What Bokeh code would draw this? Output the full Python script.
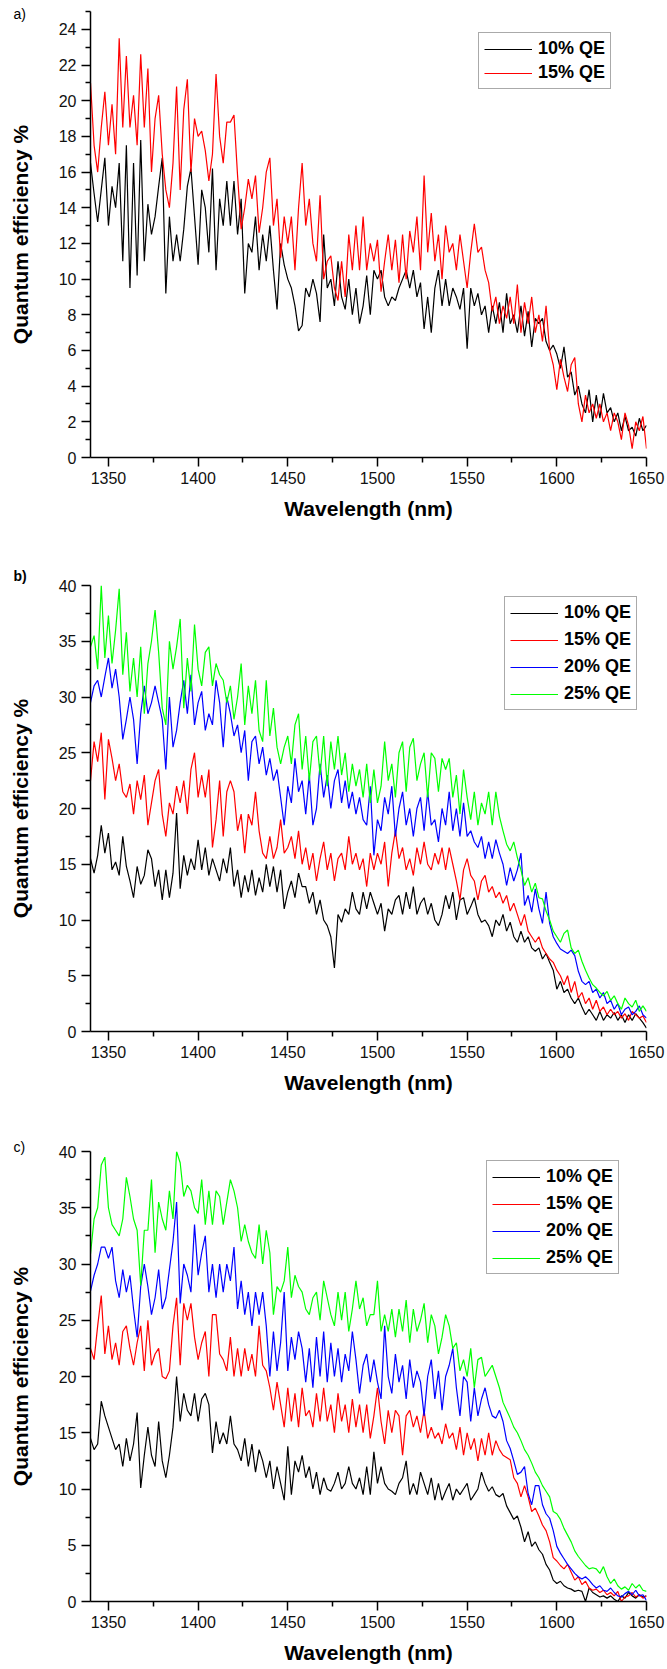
from bokeh.plotting import figure
from bokeh.models import Range1d, FixedTicker, Legend, LegendItem, Title
from bokeh.layouts import column
from bokeh.embed import file_html
from bokeh.resources import INLINE

# ---------------- data ----------------
wavelength = list(range(1340, 1651, 2))  # nm

# panel a
qe_a_10 = [
    16.5, 14.8, 13.2, 15.0, 16.8,  13.0, 15.2, 14.0, 16.5, 11.0,
    17.5, 9.5, 16.5, 10.2, 17.8,  11.0, 14.2, 12.5, 13.5, 15.2,
    16.8, 9.2, 13.5, 11.0, 12.5,  11.0, 12.8, 15.2, 16.2, 13.5,
    10.8, 15.0, 14.0, 11.5, 16.2,  10.5, 14.5, 13.0, 15.5, 13.0,
    15.5, 12.5, 14.5, 9.2, 12.0,  11.5, 13.5, 10.5, 12.5, 11.0,
    13.0, 10.5, 8.3, 12.0, 10.8,  10.0, 9.5, 8.5, 7.1, 7.4,
    9.5, 9.0, 10.0, 9.2, 7.6,  12.5, 9.5, 10.0, 8.5, 11.0,
    9.0, 8.3, 10.0, 8.0, 9.5,  7.5, 8.5, 10.2, 8.0, 10.5,
    10.0, 10.5, 9.0, 8.5, 9.0,  8.8, 9.5, 10.0, 10.5, 9.5,
    10.5, 9.0, 9.8, 7.2, 9.0,  7.0, 9.5, 10.5, 8.5, 10.0,
    8.5, 9.5, 9.0, 8.3, 9.5,  6.1, 9.5, 8.5, 9.2, 8.0,
    8.5, 7.0, 8.5, 7.5, 8.7,  7.0, 9.2, 7.5, 8.0, 7.0,
    8.5, 6.8, 8.2, 6.2, 7.8,  7.5, 7.8, 6.5, 6.0, 6.3,
    5.8, 5.0, 6.2, 4.5, 4.8,  3.5, 4.0, 3.0, 2.5, 3.8,
    2.0, 3.5, 2.2, 3.6, 2.5,  2.8, 2.0, 2.5, 1.5, 2.3,
    1.5, 1.7, 1.2, 2.2, 1.5,  1.8]
qe_a_15 = [
    21.0, 17.5, 16.0, 18.5, 20.5,  17.5, 19.8, 17.0, 23.5, 18.5,
    22.5, 18.5, 20.3, 17.5, 22.6,  18.5, 21.8, 16.0, 19.0, 20.3,
    17.0, 15.0, 14.0, 16.5, 20.8,  15.0, 19.5, 21.2, 16.0, 19.0,
    18.0, 18.3, 17.2, 15.5, 17.0,  21.5, 18.0, 16.5, 18.8, 18.8,
    19.2, 15.8, 12.8, 14.0, 15.6,  14.5, 15.8, 12.6, 14.0, 16.0,
    16.8, 13.0, 14.5, 11.2, 13.5,  12.0, 13.5, 10.5, 14.0, 16.5,
    13.0, 14.5, 12.0, 11.0, 14.7,  10.0, 11.0, 11.3, 9.5, 8.8,
    11.0, 9.0, 12.5, 10.5, 13.0,  10.5, 13.5, 10.5, 12.0, 11.0,
    12.2, 9.3, 11.0, 12.5, 10.5,  12.2, 9.8, 12.5, 10.0, 12.7,
    11.5, 13.5, 10.5, 15.8, 11.5,  13.7, 11.0, 12.5, 10.0, 13.0,
    11.5, 12.0, 10.5, 12.5, 11.0,  9.5, 11.5, 13.1, 11.5, 11.8,
    10.5, 9.8, 8.2, 9.0, 7.5,  8.5, 7.8, 9.0, 7.5, 9.7,
    7.0, 8.7, 7.5, 9.0, 7.0,  8.0, 6.5, 8.5, 6.0, 5.2,
    3.8, 5.5, 4.5, 3.7, 5.2,  5.6, 3.0, 2.0, 3.5, 2.5,
    3.0, 2.2, 3.0, 2.0, 2.5,  1.5, 2.5, 2.0, 1.0, 2.5,
    1.8, 0.5, 2.0, 1.5, 2.3,  0.5]

# panel b
qe_b_10 = [
    15.5, 14.2, 15.8, 18.5, 16.0,  17.8, 14.5, 15.2, 14.0, 17.5,
    14.8, 13.5, 12.0, 14.8, 13.2,  14.0, 16.3, 15.5, 13.0, 14.5,
    11.8, 14.5, 12.0, 14.2, 19.6,  12.8, 15.8, 14.0, 15.5, 14.5,
    17.2, 14.5, 16.5, 14.0, 15.5,  14.5, 13.5, 15.5, 14.2, 16.5,
    13.0, 14.5, 12.0, 14.0, 12.5,  14.5, 12.2, 13.8, 12.5, 15.0,
    13.0, 14.8, 12.5, 14.5, 11.0,  12.5, 13.5, 12.0, 14.2, 13.0,
    13.0, 11.5, 12.5, 10.5, 11.8,  10.0, 9.5, 8.5, 5.7, 10.5,
    9.8, 11.0, 10.5, 12.5, 11.0,  10.5, 12.5, 11.0, 12.5, 11.5,
    10.5, 11.5, 9.0, 11.0, 10.5,  11.8, 12.2, 10.5, 12.5, 11.0,
    13.0, 10.5, 11.5, 12.0, 10.5,  11.5, 10.0, 9.5, 10.5, 12.2,
    11.0, 12.5, 10.0, 11.8, 12.0,  10.5, 11.2, 12.0, 10.5, 9.8,
    10.0, 9.5, 8.5, 10.0, 9.5,  10.5, 9.0, 9.8, 8.5, 8.0,
    9.0, 8.0, 8.5, 7.5, 7.2,  7.5, 6.5, 7.0, 6.2, 5.5,
    3.8, 4.5, 3.5, 3.8, 3.0,  2.5, 3.0, 2.2, 1.5, 2.0,
    1.5, 1.0, 1.8, 1.0, 1.5,  1.2, 1.7, 1.0, 1.5, 0.8,
    1.5, 1.0, 1.6, 1.2, 0.8,  0.3]
qe_b_15 = [
    22.5, 26.0, 24.2, 26.8, 20.8,  26.2, 24.5, 22.5, 24.0, 21.5,
    21.0, 22.2, 19.5, 22.5, 20.8,  23.0, 18.5, 20.5, 22.5, 23.5,
    19.5, 17.5, 20.5, 19.5, 22.0,  20.5, 22.5, 19.5, 23.5, 25.0,
    21.0, 23.0, 21.0, 23.5, 16.5,  19.0, 22.5, 17.5, 21.5, 22.5,
    21.5, 18.0, 19.5, 16.0, 19.5,  18.5, 21.5, 18.0, 16.0, 15.5,
    17.5, 15.5, 16.5, 19.0, 16.0,  16.5, 17.5, 15.5, 18.0, 15.0,
    16.5, 14.5, 16.0, 13.5, 15.5,  17.0, 14.5, 16.0, 13.5, 15.5,
    16.0, 14.5, 17.5, 15.0, 16.0,  14.5, 15.5, 13.0, 16.0, 14.5,
    16.0, 15.0, 17.0, 13.0, 16.0,  18.0, 15.5, 16.5, 14.5, 15.5,
    14.0, 16.5, 15.0, 17.0, 15.0,  14.5, 16.0, 15.0, 16.5, 14.5,
    16.5, 15.0, 13.5, 11.8, 14.5,  15.5, 14.0, 13.5, 11.8, 13.5,
    14.0, 12.5, 13.0, 12.0, 12.5,  11.5, 12.2, 10.8, 11.5, 10.5,
    9.5, 10.5, 9.0, 8.5, 8.0,  8.5, 7.5, 7.0, 6.5, 6.2,
    5.5, 5.0, 4.2, 5.0, 3.5,  4.5, 3.0, 3.5, 2.5, 3.0,
    2.0, 2.8, 1.8, 2.2, 1.5,  2.0, 1.5, 1.8, 1.2, 1.6,
    1.0, 1.8, 1.5, 1.2, 1.4,  0.8]
qe_b_20 = [
    29.5, 31.0, 31.5, 30.0, 31.8,  33.5, 30.8, 32.5, 30.0, 26.2,
    28.0, 30.0, 28.0, 24.0, 28.5,  31.0, 28.5, 29.5, 31.0, 29.5,
    28.0, 23.5, 30.0, 25.5, 27.0,  29.5, 31.5, 28.5, 32.0, 27.5,
    29.5, 30.5, 27.0, 28.5, 27.5,  31.5, 29.5, 25.5, 30.0, 28.5,
    26.5, 27.5, 25.0, 27.0, 22.5,  26.0, 26.5, 24.0, 25.5, 23.0,
    24.5, 22.5, 23.5, 21.0, 18.5,  22.0, 20.5, 24.5, 21.5, 22.5,
    19.5, 23.0, 18.5, 20.0, 24.0,  21.0, 23.0, 20.0, 22.5, 23.5,
    20.5, 22.5, 20.0, 21.5, 19.5,  21.0, 19.0, 18.5, 22.0, 15.8,
    19.0, 18.0, 21.0, 19.5, 22.0,  17.5, 20.0, 21.5, 18.5, 20.0,
    17.5, 20.0, 21.0, 18.0, 21.5,  18.5, 19.0, 17.0, 20.0, 18.5,
    21.5, 18.0, 20.0, 17.5, 20.5,  17.5, 18.0, 17.0, 16.5, 17.5,
    15.5, 17.0, 15.5, 17.2, 16.0,  15.0, 13.1, 14.7, 13.5, 14.5,
    16.0, 11.3, 12.2, 10.7, 12.8,  11.0, 9.7, 12.5, 9.7, 8.5,
    7.9, 7.4, 7.2, 7.0, 7.3,  6.8, 5.4, 4.5, 4.2, 4.5,
    3.5, 3.8, 3.0, 3.5, 2.5,  2.8, 2.0, 2.5, 1.5, 2.0,
    2.2, 1.5, 1.8, 2.3, 1.5,  1.2]
qe_b_25 = [
    34.5, 35.5, 32.5, 40.0, 33.5,  37.3, 33.0, 36.0, 39.7, 32.0,
    35.8, 30.5, 33.5, 30.0, 34.5,  28.5, 33.0, 35.0, 37.8, 34.0,
    29.0, 27.5, 35.0, 32.5, 34.5,  37.0, 29.0, 33.5, 30.5, 36.5,
    32.5, 31.0, 34.0, 34.5, 31.0,  33.0, 32.0, 31.5, 29.5, 31.0,
    28.0, 30.0, 33.0, 27.5, 31.0,  28.5, 31.5, 27.0, 26.0, 31.5,
    26.5, 29.0, 25.5, 24.0, 25.5,  26.5, 24.0, 27.5, 28.5, 23.5,
    26.5, 22.5, 26.0, 26.5, 23.0,  26.5, 22.0, 26.0, 23.5, 26.5,
    23.0, 25.0, 21.5, 24.0, 22.0,  23.5, 21.0, 24.0, 20.5, 23.5,
    20.5, 22.0, 26.0, 22.5, 24.0,  21.0, 25.0, 26.0, 21.5, 25.5,
    26.3, 22.5, 24.0, 25.0, 21.0,  25.0, 24.5, 21.5, 24.5, 23.5,
    24.5, 21.0, 23.0, 19.5, 23.5,  21.0, 19.0, 21.5, 18.5, 20.5,
    19.5, 21.5, 18.5, 21.5, 19.3,  18.0, 16.8, 16.2, 17.0, 15.6,
    14.5, 13.1, 13.8, 12.5, 13.3,  12.0, 11.9, 10.8, 10.0, 9.0,
    8.5, 8.0, 8.8, 9.1, 7.5,  7.0, 7.3, 6.3, 5.5, 4.8,
    4.2, 3.9, 3.5, 3.2, 3.6,  2.8, 3.2, 2.5, 2.0, 3.0,
    2.5, 2.2, 2.8, 1.8, 2.3,  1.8]

# panel c
qe_c_10 = [
    14.5, 13.5, 14.0, 17.8, 16.5,  15.5, 14.5, 13.5, 14.0, 12.0,
    14.5, 12.5, 14.0, 16.8, 10.1,  13.0, 15.5, 13.0, 12.0, 16.0,
    12.5, 11.0, 13.0, 15.5, 20.0,  16.0, 18.5, 17.0, 16.5, 18.5,
    16.0, 18.0, 18.5, 17.5, 13.2,  16.0, 14.0, 15.0, 14.0, 16.5,
    14.0, 13.5, 12.5, 14.5, 12.0,  14.0, 11.5, 13.5, 12.5, 11.0,
    12.5, 10.0, 12.0, 10.5, 9.0,  13.8, 9.5, 12.5, 11.5, 13.0,
    11.0, 12.0, 10.0, 11.5, 9.5,  11.0, 10.0, 9.8, 10.5, 11.5,
    10.0, 10.5, 12.0, 10.5, 10.0,  11.0, 9.5, 12.0, 9.5, 13.3,
    10.5, 12.0, 10.5, 10.0, 9.8,  9.5, 10.5, 11.0, 12.5, 9.5,
    10.5, 9.5, 11.5, 10.5, 9.5,  11.0, 9.0, 10.5, 9.0, 9.8,
    10.5, 9.0, 10.0, 9.5, 10.0,  10.5, 9.0, 9.5, 10.0, 11.5,
    10.5, 9.8, 10.2, 9.5, 9.3,  9.6, 8.5, 7.9, 7.3, 7.6,
    6.6, 5.3, 6.2, 4.9, 5.3,  4.6, 4.2, 3.3, 2.8, 1.9,
    1.6, 1.8, 1.4, 1.2, 1.1,  0.9, 1.0, 0.9, 0.0, 1.2,
    0.8, 0.6, 0.4, 0.5, 0.3,  0.5, 0.2, 0.0, 0.5, 0.3,
    0.8, 0.5, 0.3, 0.6, 0.4,  0.5]
qe_c_15 = [
    22.5, 21.5, 24.5, 27.2, 22.0,  24.5, 21.5, 23.0, 21.0, 24.0,
    24.5, 22.5, 21.0, 23.0, 24.5,  20.5, 25.0, 21.0, 22.0, 22.5,
    20.0, 19.8, 20.5, 24.5, 27.0,  21.0, 26.5, 25.0, 26.5, 23.5,
    21.5, 23.0, 24.0, 20.0, 25.5,  25.5, 22.0, 21.5, 20.5, 23.5,
    20.0, 22.5, 20.0, 22.5, 20.5,  22.0, 20.0, 24.5, 21.0, 20.5,
    19.0, 17.0, 19.5, 17.5, 15.5,  19.0, 16.0, 18.5, 15.5, 19.0,
    16.5, 17.0, 15.5, 18.5, 16.0,  19.0, 16.0, 17.5, 15.0, 18.5,
    16.0, 17.5, 15.0, 18.0, 15.5,  17.5, 15.0, 17.5, 14.5, 16.5,
    19.0, 16.0, 14.0, 17.0, 15.0,  17.0, 16.5, 13.0, 16.5, 17.0,
    15.5, 16.5, 15.0, 17.0, 14.5,  15.5, 14.5, 15.0, 14.0, 15.8,
    14.5, 15.0, 13.5, 15.5, 13.0,  15.0, 13.5, 14.5, 12.5, 14.5,
    13.0, 15.0, 13.0, 14.3, 13.5,  13.0, 12.8, 12.6, 11.0, 10.5,
    9.3, 10.3, 9.3, 8.0, 8.3,  7.6, 6.8, 6.3, 5.3, 3.9,
    3.6, 3.2, 2.9, 3.3, 2.6,  1.9, 2.2, 1.5, 1.8, 1.2,
    1.0, 1.1, 0.8, 1.0, 0.6,  0.8, 0.5, 0.9, 0.0, 0.4,
    0.5, 0.8, 0.4, 0.6, 0.3,  0.5]
qe_c_20 = [
    27.6, 29.0, 30.0, 31.5, 31.5,  30.5, 31.5, 28.5, 27.0, 29.5,
    27.5, 29.0, 26.0, 23.5, 28.0,  30.0, 28.0, 25.5, 27.0, 29.5,
    26.0, 27.0, 29.5, 32.0, 35.5,  26.5, 30.0, 29.0, 27.5, 33.5,
    29.0, 31.0, 32.5, 27.5, 30.0,  27.0, 30.0, 27.5, 30.0, 28.5,
    31.5, 26.0, 28.5, 25.5, 27.5,  24.5, 27.5, 25.5, 27.5, 24.5,
    20.0, 24.0, 20.5, 23.0, 27.5,  20.5, 23.5, 21.5, 24.0, 22.5,
    19.5, 22.5, 19.0, 23.5, 20.0,  24.0, 19.5, 23.0, 20.0, 22.5,
    19.5, 22.0, 20.5, 24.0, 21.5,  18.5, 21.0, 22.0, 19.5, 21.5,
    19.5, 18.0, 24.5, 20.0, 18.5,  22.0, 19.5, 21.0, 18.0, 21.5,
    19.0, 20.5, 19.5, 16.5, 20.0,  21.5, 18.0, 20.5, 17.0, 20.0,
    21.0, 22.5, 19.0, 16.5, 20.0,  19.5, 16.0, 19.0, 16.5, 18.0,
    19.0, 17.5, 16.5, 16.3, 17.0,  16.0, 14.3, 13.6, 12.5, 11.3,
    11.5, 12.0, 9.6, 8.6, 10.3,  10.3, 8.6, 7.8, 7.4, 6.3,
    4.9, 4.3, 3.8, 3.3, 2.9,  2.5, 2.2, 2.0, 2.2, 1.9,
    1.5, 1.2, 1.4, 1.0, 0.9,  1.2, 0.8, 0.5, 0.4, 0.7,
    0.9, 0.6, 1.0, 0.5, 0.6,  0.1]
qe_c_25 = [
    30.9, 34.0, 35.0, 38.8, 39.5,  35.0, 33.5, 33.0, 32.5, 34.0,
    37.7, 36.0, 34.0, 33.0, 28.1,  33.0, 33.0, 37.5, 31.0, 35.5,
    34.0, 33.0, 36.5, 34.0, 40.0,  39.0, 36.0, 37.0, 36.5, 35.0,
    34.5, 37.5, 33.5, 36.5, 33.5,  36.5, 36.0, 33.5, 35.5, 37.5,
    36.5, 35.0, 32.0, 33.5, 32.0,  31.0, 30.5, 33.5, 30.0, 33.0,
    31.0, 25.5, 28.0, 27.5, 28.5,  31.5, 27.0, 29.0, 28.0, 27.5,
    26.0, 25.5, 27.0, 27.5, 25.0,  28.5, 27.0, 25.5, 24.5, 27.5,
    25.0, 27.5, 24.0, 26.0, 28.5,  26.0, 27.0, 24.5, 25.5, 25.5,
    28.5, 24.0, 25.5, 24.0, 26.0,  23.5, 26.0, 24.0, 26.8, 23.0,
    26.0, 24.0, 25.0, 26.5, 23.0,  25.5, 24.5, 22.0, 23.5, 25.5,
    24.5, 22.5, 23.0, 20.5, 21.5,  20.0, 22.5, 19.0, 21.5, 21.7,
    20.0, 20.5, 21.0, 20.0, 19.0,  17.7, 17.0, 16.3, 15.5, 15.0,
    14.3, 13.5, 13.0, 12.3, 11.5,  11.0, 10.3, 9.8, 9.3, 8.0,
    7.8, 7.3, 6.5, 5.9, 5.3,  4.5, 4.0, 3.6, 3.2, 2.9,
    3.0, 2.9, 2.5, 3.1, 2.2,  1.6, 2.0, 1.4, 1.1, 1.3,
    1.0, 1.6, 1.2, 1.5, 1.0,  0.9]

series_names = ["10% QE", "15% QE", "20% QE", "25% QE"]
series_colors = ["#000000", "#ff0000", "#0000ff", "#00ff00"]
x_major = [1350, 1400, 1450, 1500, 1550, 1600, 1650]
x_minor = [1375, 1425, 1475, 1525, 1575, 1625]
y_major_a = [0, 2, 4, 6, 8, 10, 12, 14, 16, 18, 20, 22, 24]
y_minor_a = [1, 3, 5, 7, 9, 11, 13, 15, 17, 19, 21, 23, 25]
y_major_bc = [0, 5, 10, 15, 20, 25, 30, 35, 40]
y_minor_bc = [2.5, 7.5, 12.5, 17.5, 22.5, 27.5, 32.5, 37.5]

FONT = "Liberation Sans"


def make_panel(height, top, bottom, ymax, ymaj, ymin, data, legend_xy, spacing,
               tag, tag_standoff, tag_bold):
    tag_title = Title(text=tag, align="left", offset=-77, standoff=tag_standoff,
                      text_font=FONT, text_font_size="14px",
                      text_font_style="bold" if tag_bold else "normal",
                      text_color="black")
    p = figure(width=667, height=height, output_backend="svg", toolbar_location=None,
               title=tag_title,
               x_range=Range1d(1340, 1650), y_range=Range1d(0, ymax),
               min_border_left=90, min_border_right=21,
               min_border_top=top, min_border_bottom=bottom)
    p.outline_line_color = None
    p.xgrid.grid_line_color = None
    p.ygrid.grid_line_color = None
    p.background_fill_color = "white"
    p.border_fill_color = "white"

    p.xaxis.ticker = FixedTicker(ticks=x_major, minor_ticks=x_minor)
    p.yaxis.ticker = FixedTicker(ticks=ymaj, minor_ticks=ymin)
    for ax in (p.xaxis[0], p.yaxis[0]):
        ax.axis_line_width = 1.5
        ax.axis_line_color = "black"
        ax.major_tick_out = 9
        ax.major_tick_in = 0
        ax.minor_tick_out = 5
        ax.minor_tick_in = 0
        ax.major_tick_line_width = 1.5
        ax.minor_tick_line_width = 1.5
        ax.major_tick_line_color = "black"
        ax.minor_tick_line_color = "black"
        ax.major_label_text_font = FONT
        ax.major_label_text_font_size = "16px"
        ax.major_label_text_color = "#111111"
        ax.major_label_standoff = 5
        ax.axis_label_text_font = FONT
        ax.axis_label_text_font_style = "bold"
        ax.axis_label_text_font_size = "21px"
        ax.axis_label_text_color = "black"
    p.xaxis.axis_label = "Wavelength (nm)"
    p.yaxis.axis_label = "Quantum efficiency %"
    p.xaxis.axis_label_standoff = 10
    p.yaxis.axis_label_standoff = 24

    items = []
    for name, color, ys in zip(series_names, series_colors, data):
        r = p.line(wavelength, ys, line_color=color, line_width=1.2)
        items.append(LegendItem(label=name, renderers=[r]))

    leg = Legend(items=items, location=legend_xy,
                 label_text_font=FONT, label_text_font_style="bold",
                 label_text_font_size="18px", label_text_color="black",
                 glyph_width=48, glyph_height=20, label_height=20,
                 label_standoff=6, spacing=spacing, padding=5, margin=0,
                 border_line_color="#555555", border_line_width=1,
                 background_fill_color="white", background_fill_alpha=1.0)
    p.add_layout(leg)
    return p


pa = make_panel(545, 11, 88, 25, y_major_a, y_minor_a, [qe_a_10, qe_a_15],
                (388, 368), 3, "a)", -20, False)
pb = make_panel(570, 40, 84, 40, y_major_bc, y_minor_bc,
                [qe_b_10, qe_b_15, qe_b_20, qe_b_25], (414, 321), 6, "b)", 4, True)
pc = make_panel(554, 36, 68, 40, y_major_bc, y_minor_bc,
                [qe_c_10, qe_c_15, qe_c_20, qe_c_25], (396, 327), 6, "c)", -6, False)

layout = column(pa, pb, pc, spacing=0)
open("out.html", "w").write(file_html(layout, INLINE))
